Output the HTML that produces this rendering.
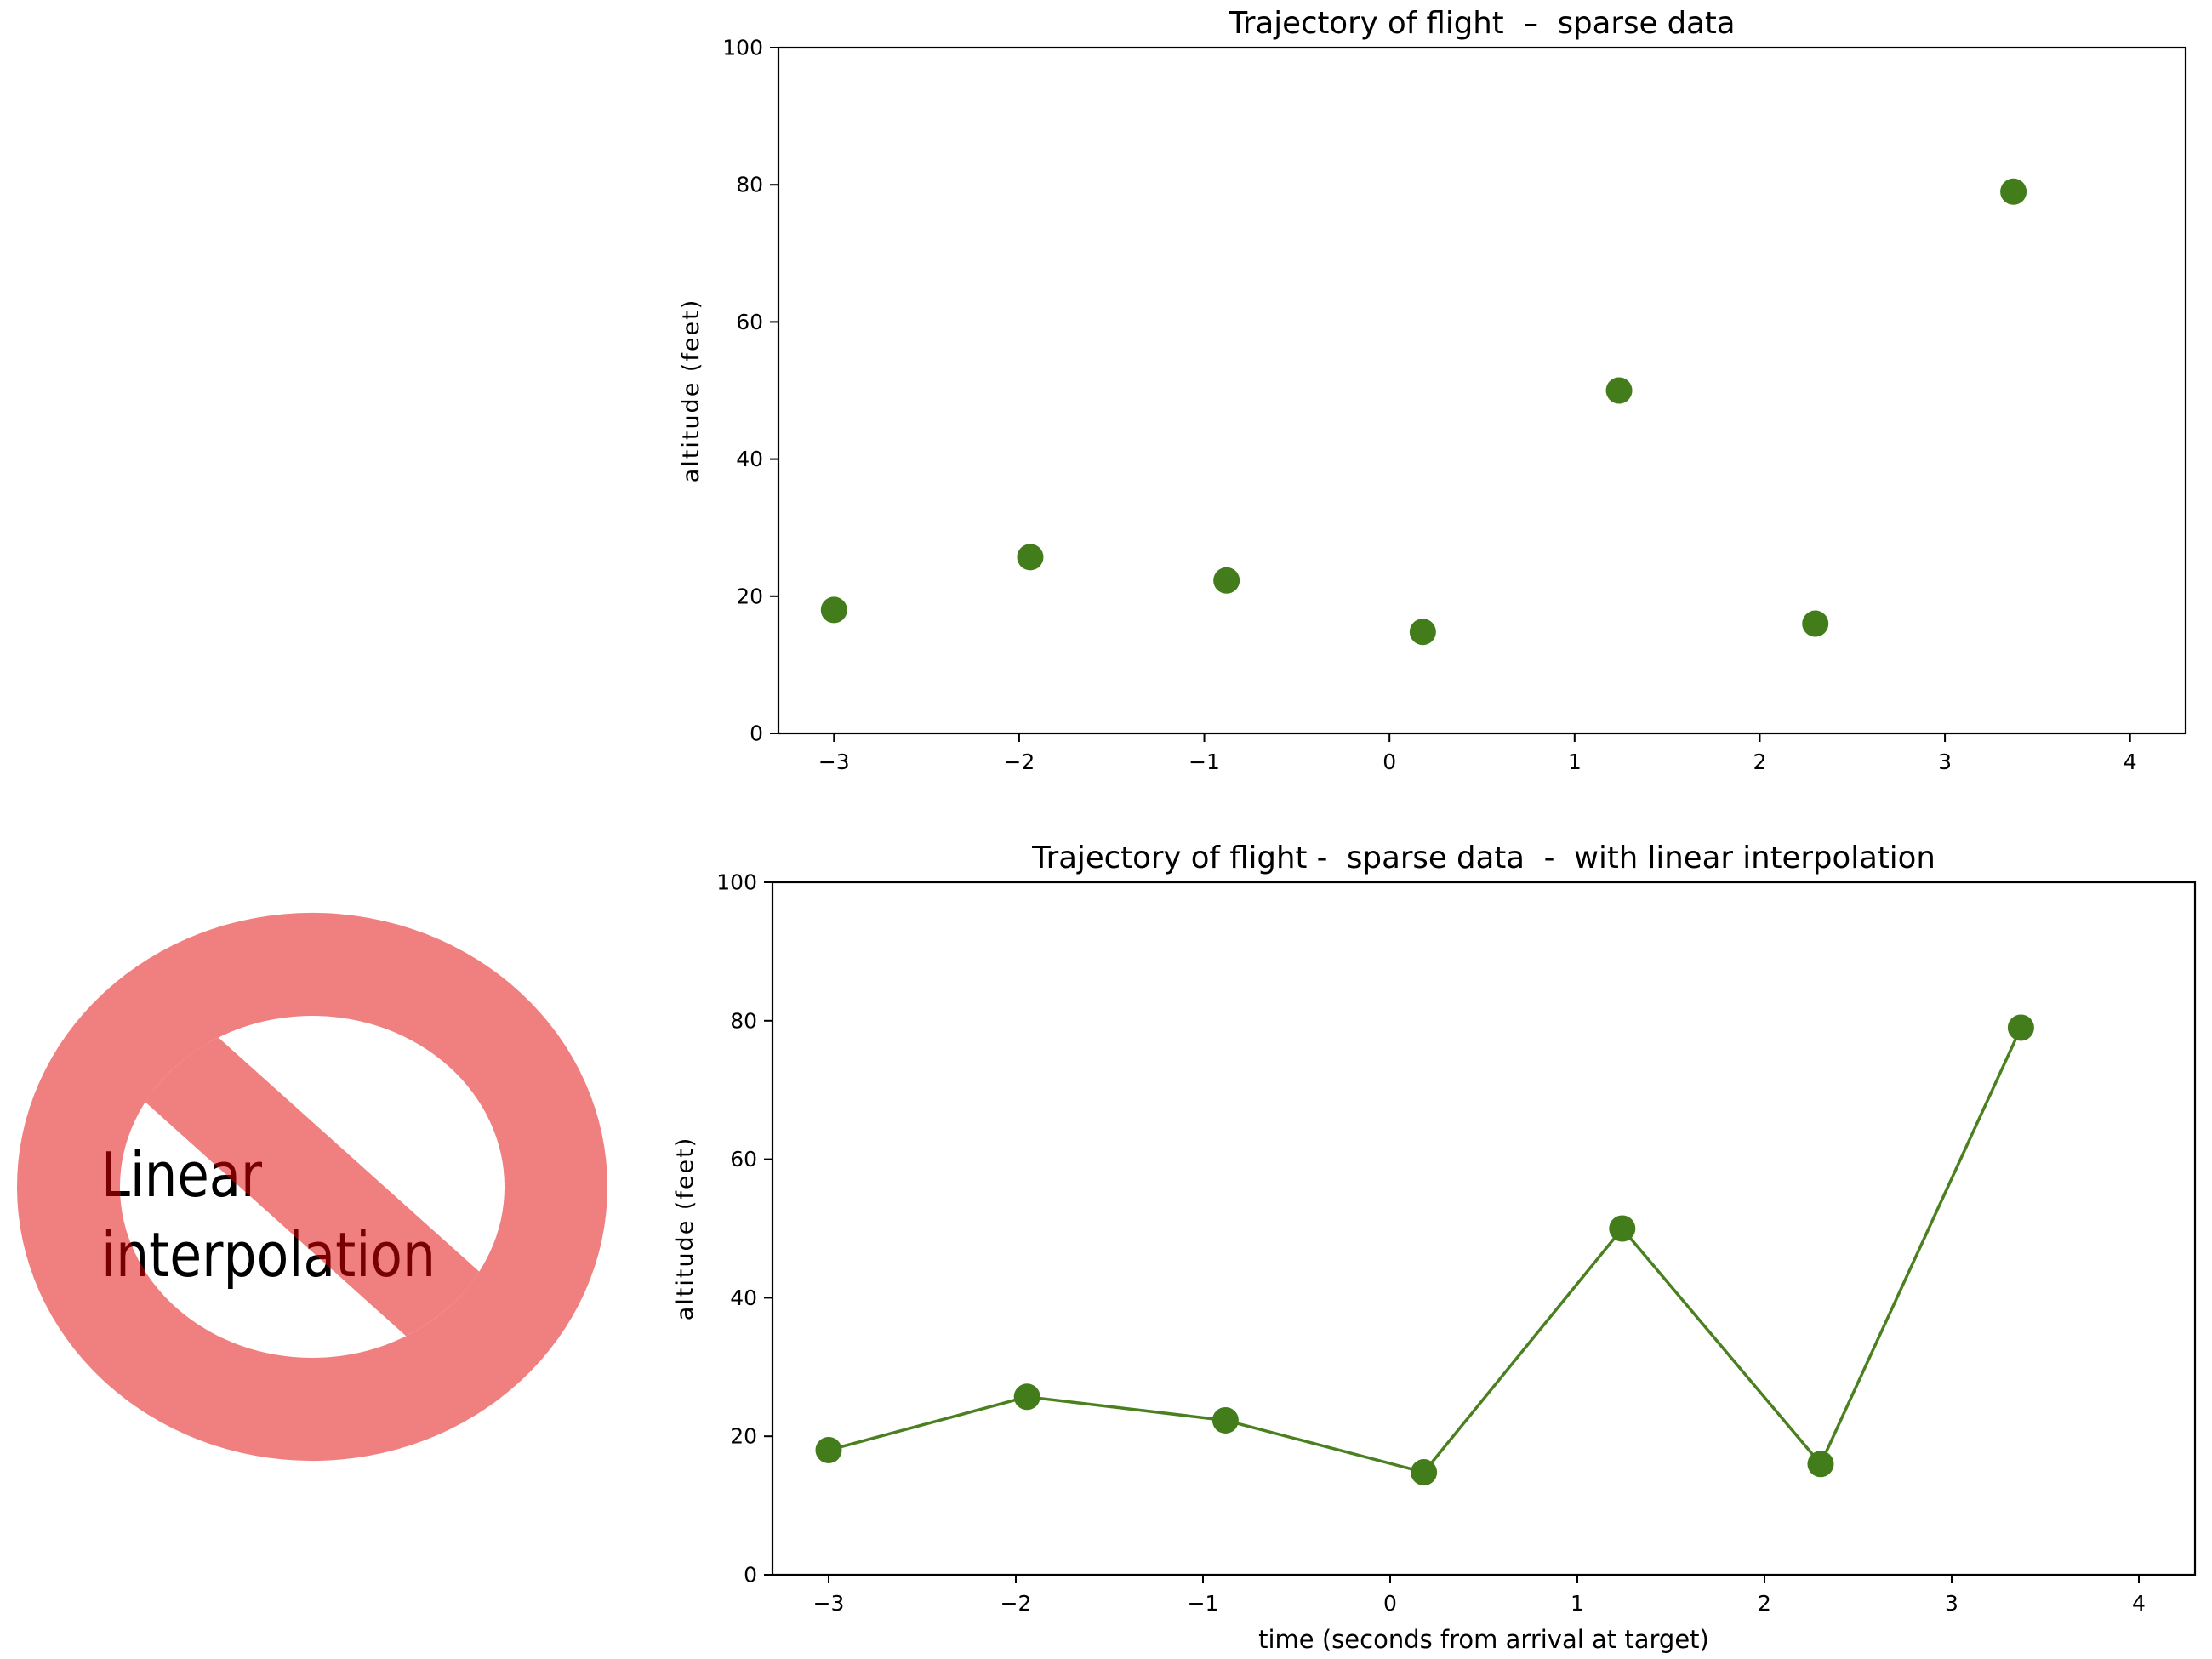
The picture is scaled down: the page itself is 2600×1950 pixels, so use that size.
<!DOCTYPE html>
<html><head><meta charset="utf-8">
<style>
html,body{margin:0;padding:0;background:#fff;}
svg{display:block;font-family:"DejaVu Sans","Liberation Sans",sans-serif;}
</style></head>
<body>
<svg id="fig" width="2600" height="1950" viewBox="0 0 2600 1950" xmlns="http://www.w3.org/2000/svg">
  <defs>
    <clipPath id="signclip">
      <path fill-rule="evenodd" clip-rule="evenodd" d="M20,1395 a347,322 0 1,0 694,0 a347,322 0 1,0 -694,0 Z M141,1395 a226,201 0 1,1 452,0 a226,201 0 1,1 -452,0 Z"/>
      <rect x="47" y="1338" width="640" height="114" transform="rotate(41.9 367 1395)"/>
    </clipPath>
  </defs>
  <g>
    <text x="119" y="1406" font-family="'DejaVu Sans Condensed','DejaVu Sans',sans-serif" font-size="72" fill="#000" textLength="189" lengthAdjust="spacingAndGlyphs">Linear</text>
    <text x="119" y="1500" font-family="'DejaVu Sans Condensed','DejaVu Sans',sans-serif" font-size="72" fill="#000" textLength="393" lengthAdjust="spacingAndGlyphs">interpolation</text>
    <path fill="#f08080" fill-rule="evenodd" d="M20,1395 a347,322 0 1,0 694,0 a347,322 0 1,0 -694,0 Z M141,1395 a226,201 0 1,1 452,0 a226,201 0 1,1 -452,0 Z"/>
    <g clip-path="url(#signclip)">
      <rect x="47" y="1338" width="640" height="114" fill="#f08080" transform="rotate(41.9 367 1395)"/>
      <text x="119" y="1406" font-family="'DejaVu Sans Condensed','DejaVu Sans',sans-serif" font-size="72" fill="#780000" textLength="189" lengthAdjust="spacingAndGlyphs">Linear</text>
      <text x="119" y="1500" font-family="'DejaVu Sans Condensed','DejaVu Sans',sans-serif" font-size="72" fill="#780000" textLength="393" lengthAdjust="spacingAndGlyphs">interpolation</text>
    </g>
  </g>
  <g id="top"></g>
  <g id="bottom"></g>
</svg>
<script>
const xValues = [-3, -1.94, -0.88, 0.18, 1.24, 2.30, 3.37];
const yValues = [18, 25.7, 22.3, 14.8, 50, 16, 79];
const xTicks = [-3, -2, -1, 0, 1, 2, 3, 4];
const xTickLabels = ["\u22123", "\u22122", "\u22121", "0", "1", "2", "3", "4"];
const yTicks = [0, 20, 40, 60, 80, 100];
const yTickLabels = ["0", "20", "40", "60", "80", "100"];
const xDomain = [-3.3, 4.3];
const yDomain = [0, 100];

const NS = "http://www.w3.org/2000/svg";
function mk(tag, attrs, parent, txt) {
  const e = document.createElementNS(NS, tag);
  for (const k in attrs) e.setAttribute(k, attrs[k]);
  if (txt !== undefined) e.textContent = txt;
  parent.appendChild(e);
  return e;
}

function drawChart(g, box, title, showLine, xlabel) {
  const sx = v => box.l + (v - xDomain[0]) / (xDomain[1] - xDomain[0]) * (box.r - box.l);
  const sy = v => box.b - (v - yDomain[0]) / (yDomain[1] - yDomain[0]) * (box.b - box.t);
  const col = "#437c1b";
  if (showLine) {
    const pts = xValues.map((x, i) => sx(x) + "," + sy(yValues[i])).join(" ");
    const pl = mk("polyline", {points: pts, fill: "none", stroke: "#4a8020", "stroke-width": 3.5, "stroke-linejoin": "round"}, g);
    
    
  }
  xValues.forEach((x, i) => {
    const c = mk("circle", {cx: sx(x), cy: sy(yValues[i]), r: 15.5, fill: col}, g);
    
    
  });
  const frame = mk("rect", {x: box.l, y: box.t, width: box.r - box.l, height: box.b - box.t, fill: "none", stroke: "#000", "stroke-width": 2.2}, g);
  
  
  xTicks.forEach((t, i) => {
    const x = sx(t);
    const tk = mk("line", {x1: x, x2: x, y1: box.b, y2: box.b + 10, stroke: "#000", "stroke-width": 2}, g);
    
    
    const tl = mk("text", {x: x, y: box.b + 42, "text-anchor": "middle", "font-size": 25, fill: "#000"}, g, xTickLabels[i]);
    
    
  });
  yTicks.forEach((t, i) => {
    const y = sy(t);
    const tk = mk("line", {x1: box.l - 10, x2: box.l, y1: y, y2: y, stroke: "#000", "stroke-width": 2}, g);
    
    
    const tl = mk("text", {x: box.l - 18, y: y + 8.5, "text-anchor": "end", "font-size": 25, fill: "#000"}, g, yTickLabels[i]);
    
    
  });
  const tt = mk("text", {x: (box.l + box.r) / 2, y: box.t - 17, "text-anchor": "middle", "font-size": 35.5, fill: "#000", style: "white-space:pre"}, g, title);
  
  
  const cy = (box.t + box.b) / 2;
  const yl = mk("text", {x: box.l - 94, y: cy, "text-anchor": "middle", "font-size": 27, "letter-spacing": 2, fill: "#000", transform: "rotate(-90 " + (box.l - 94) + " " + cy + ")"}, g, "altitude (feet)");
  
  
  if (xlabel) {
    const xl = mk("text", {x: (box.l + box.r) / 2, y: box.b + 86, "text-anchor": "middle", "font-size": 29, fill: "#000"}, g, xlabel);
    
    
  }
}
drawChart(document.getElementById("top"), {l: 915, r: 2569, t: 56, b: 862}, "Trajectory of flight  \u2013  sparse data", false, null);
drawChart(document.getElementById("bottom"), {l: 908, r: 2580, t: 1037, b: 1851}, "Trajectory of flight -  sparse data  -  with linear interpolation", true, "time (seconds from arrival at target)");
</script>
</body></html>
